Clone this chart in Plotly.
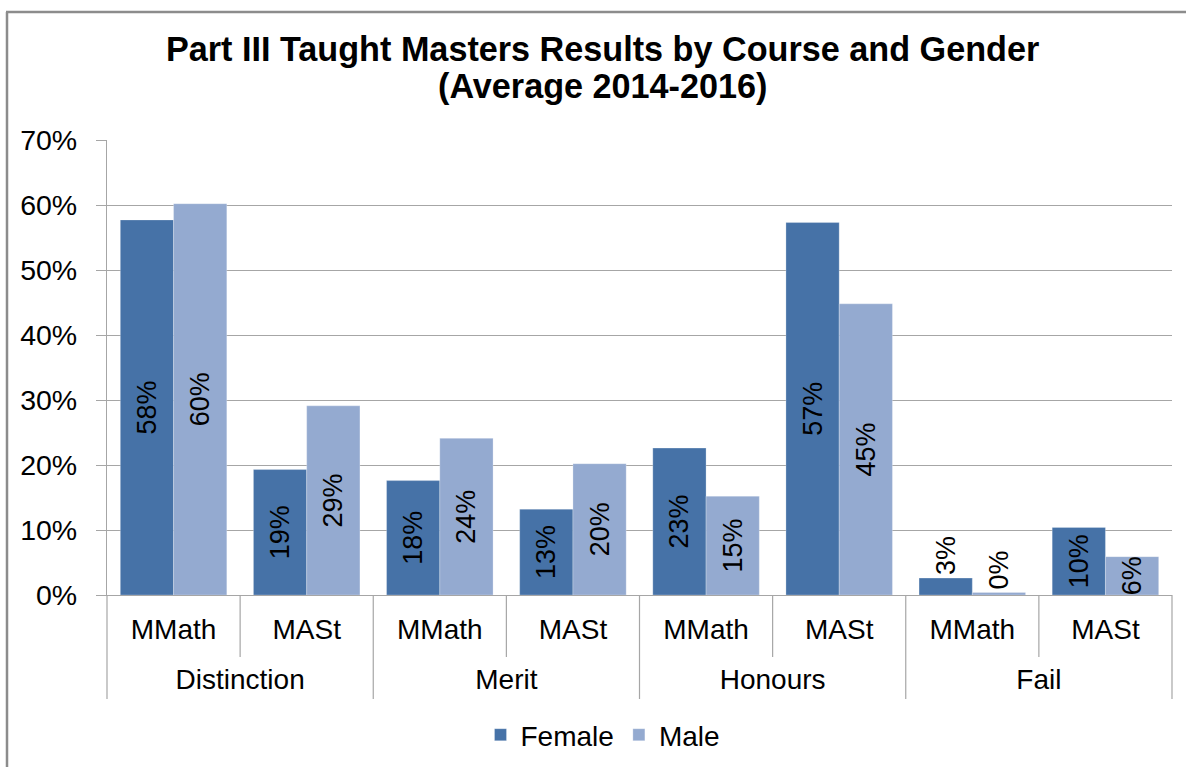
import plotly.graph_objects as go

groups = ["Distinction", "Merit", "Honours", "Fail"]
courses = ["MMath", "MASt"]
female = [0.577, 0.193, 0.176, 0.132, 0.226, 0.573, 0.026, 0.104]
male = [0.602, 0.291, 0.241, 0.202, 0.152, 0.448, 0.004, 0.059]
female_pos = ["inside", "inside", "inside", "inside", "inside", "inside", "outside", "inside"]
male_pos = ["inside", "inside", "inside", "inside", "inside", "inside", "outside", "inside"]
y_ticks = [0, 0.1, 0.2, 0.3, 0.4, 0.5, 0.6, 0.7]
title_1 = "Part III Taught Masters Results by Course and Gender"
title_2 = "(Average 2014-2016)"

n_c = len(courses)
n = len(groups) * n_c
x_pos = list(range(n))
x_courses = [c for _ in groups for c in courses]
group_centers = [gi * n_c + (n_c - 1) / 2 for gi in range(len(groups))]

FONT = "Liberation Sans, Arial, sans-serif"
GRID = "#A6A6A6"
W, H = 1186, 767

def fx(xp):
    return xp / W

def fy(yp):
    return 1 - yp / H

fig = go.Figure()
for name, vals, pos, col in [("Female", female, female_pos, "#4672A7"),
                             ("Male", male, male_pos, "#94AAD0")]:
    fig.add_trace(go.Bar(
        x=x_pos, y=vals, name=name,
        marker=dict(color=col, line=dict(color="rgba(255,255,255,0.5)", width=0.5)),
        texttemplate="%{y:.0%}", textposition=pos, textangle=-90,
        insidetextanchor="middle", constraintext="none",
        textfont=dict(family=FONT, size=27, color="black"),
        cliponaxis=False,
    ))
# invisible helper so the group-label axis is rendered
fig.add_trace(go.Scatter(x=group_centers, y=[0] * len(groups), xaxis="x2", yaxis="y",
                         mode="markers", marker=dict(opacity=0), showlegend=False,
                         hoverinfo="skip"))

shapes = []
# frame (partially cropped) around chart
shapes.append(dict(type="line", xref="paper", yref="paper", x0=fx(7), x1=fx(7), y0=fy(12), y1=fy(790),
                   line=dict(color="#8C8C8C", width=2.5)))
shapes.append(dict(type="line", xref="paper", yref="paper", x0=fx(6), x1=fx(1200), y0=fy(12), y1=fy(12),
                   line=dict(color="#8C8C8C", width=2.5)))
# category boundary lines
for i in range(n + 1):
    is_group = (i % n_c == 0)
    shapes.append(dict(type="line", xref="x domain", yref="paper", x0=i / n, x1=i / n,
                       y0=fy(595), y1=fy(699) if is_group else fy(657),
                       line=dict(color=GRID, width=1.2)))

fig.update_layout(
    width=W, height=H,
    margin=dict(l=0, r=0, t=0, b=0),
    paper_bgcolor="white", plot_bgcolor="white",
    font=dict(family=FONT, size=28, color="black"),
    barmode="group", bargap=0.2, bargroupgap=0,
    showlegend=True,
    legend=dict(orientation="h", x=fx(603), xanchor="center", y=fy(735), yanchor="middle",
                font=dict(size=28), traceorder="normal", itemwidth=30),
    shapes=shapes,
    annotations=[
        dict(text="<b>" + title_1 + "</b>", xref="paper", yref="paper", x=fx(602), y=fy(49),
             xanchor="center", yanchor="middle", showarrow=False, font=dict(size=34.2)),
        dict(text="<b>" + title_2 + "</b>", xref="paper", yref="paper", x=fx(602), y=fy(86),
             xanchor="center", yanchor="middle", showarrow=False, font=dict(size=34.2)),
    ],
    xaxis=dict(domain=[fx(107), fx(1172)], range=[-0.5, n - 0.5], tickvals=x_pos, ticktext=x_courses,
               showline=True, linecolor=GRID, linewidth=1.2, ticks="", showgrid=False, zeroline=False,
               ticklabelstandoff=9, tickfont=dict(size=28), automargin=False, anchor="y"),
    xaxis2=dict(overlaying="x", anchor="free", position=fy(595), side="bottom",
                domain=[fx(107), fx(1172)],
                range=[-0.5, n - 0.5], tickvals=group_centers, ticktext=groups,
                showline=False, ticks="", showgrid=False, zeroline=False,
                ticklabelstandoff=65, tickfont=dict(size=28), automargin=False),
    yaxis=dict(domain=[fy(595), fy(140)], range=[0, 0.7], tickvals=y_ticks, tickformat=".0%",
               showgrid=True, gridcolor=GRID, gridwidth=1.2,
               showline=True, linecolor=GRID, linewidth=1.2,
               ticks="outside", ticklen=10, tickcolor=GRID, tickwidth=1.2,
               ticklabelstandoff=13, zeroline=False, tickfont=dict(size=28.5), automargin=False),
)

fig.write_html("out.html", config={"displayModeBar": False},
               post_script="document.body.style.margin='0px';document.body.style.overflow='hidden';")
